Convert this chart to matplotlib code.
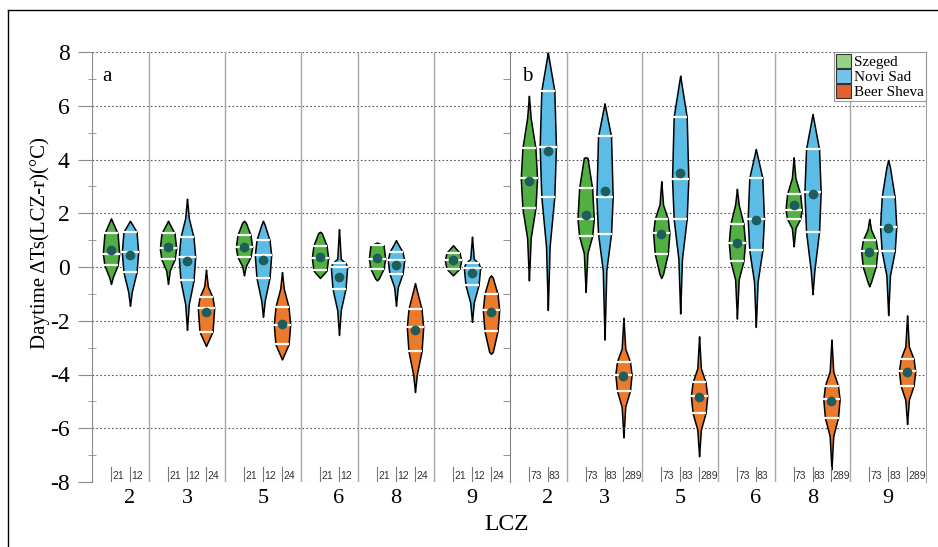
import numpy as np
import matplotlib.pyplot as plt
from matplotlib.lines import Line2D
from matplotlib.patches import Patch

plt.rcParams['font.family'] = ['Liberation Serif', 'DejaVu Serif']
plt.rcParams['axes.unicode_minus'] = False

lcz = ['2', '3', '5', '6', '8', '9']
cities = ['Szeged', 'Novi Sad', 'Beer Sheva']
n_a = [21, 12, 24]
n_b = [73, 83, 289]

# each row: max, q3, median, q1, min, mean  (None = no data for that LCZ)
szeged_a = [[1.81, 1.25, 0.50, 0.06, -0.63, 0.62],
            [1.72, 1.25, 0.69, 0.28, -0.63, 0.75],
            [1.72, 1.19, 0.73, 0.38, -0.31, 0.75],
            [1.31, 0.80, 0.34, -0.13, -0.41, 0.38],
            [0.91, 0.81, 0.31, -0.06, -0.50, 0.34],
            [0.81, 0.53, 0.25, -0.06, -0.31, 0.25]]
novisad_a = [[1.72, 1.31, 0.54, -0.19, -1.44, 0.44],
             [2.54, 1.10, 0.38, -0.50, -2.34, 0.22],
             [1.72, 1.00, 0.44, -0.40, -1.85, 0.25],
             [1.41, 0.15, 0.00, -0.80, -2.53, -0.36],
             [1.00, 0.56, 0.25, -0.25, -1.44, 0.09],
             [1.13, 0.14, -0.02, -0.67, -2.04, -0.23]]
beersheva_a = [None,
               [-0.10, -1.13, -1.54, -2.40, -2.94, -1.69],
               [-0.19, -1.48, -2.15, -2.88, -3.44, -2.13],
               None,
               [-0.60, -1.56, -2.25, -3.13, -4.65, -2.34],
               [-0.31, -1.00, -1.60, -2.38, -3.23, -1.69]]

szeged_b = [[6.37, 4.42, 3.30, 2.19, -0.50, 3.19],
            [4.08, 2.93, 1.79, 1.15, -0.93, 1.92],
            [3.19, 1.79, 1.26, 0.50, -0.41, 1.21],
            [2.91, 1.61, 0.90, 0.22, -1.92, 0.90],
            [4.08, 2.72, 2.13, 1.79, 0.77, 2.29],
            [1.79, 0.99, 0.59, 0.02, -0.72, 0.56]]
novisad_b = [[7.98, 6.56, 4.48, 2.62, -1.60, 4.33],
             [6.09, 4.86, 2.60, 1.24, -2.70, 2.82],
             [7.12, 5.59, 3.28, 1.79, -1.73, 3.49],
             [4.39, 3.32, 1.79, 0.62, -2.23, 1.76],
             [5.69, 4.39, 2.78, 1.32, -1.01, 2.72],
             [3.98, 2.60, 1.49, 0.59, -1.79, 1.46]]
beersheva_b = [None,
               [-1.89, -3.52, -4.00, -4.60, -6.34, -4.04],
               [-2.58, -4.29, -4.81, -5.43, -7.04, -4.84],
               None,
               [-2.70, -4.41, -4.93, -5.61, -7.52, -4.97],
               [-1.80, -3.42, -3.88, -4.41, -5.84, -3.89]]

fill_colors = ['#52b042', '#5bbde6', '#ec7a2a']
legend_colors = ['#96d286', '#74c3ea', '#e0622e']
dot_color = '#1f5c5c'
sep_color = '#a8a8a8'
HALF = 0.43


def profile(s):
    vmax, q3, med, q1, vmin, mean = s
    ky, kw = [vmin], [0.0]
    lo = q1 - (med - q1)
    if lo > vmin:
        ky.append(lo); kw.append(0.22)
    ky += [q1, med, q3]; kw += [0.8, 1.0, 0.8]
    hi = q3 + (q3 - med)
    if hi < vmax:
        ky.append(hi); kw.append(0.22)
    ky.append(vmax); kw.append(0.0)
    return ky, kw


def draw_violin(ax, x, s, color):
    vmax, q3, med, q1, vmin, mean = s
    ky, kw = profile(s)
    coords = np.linspace(vmin, vmax, 300)
    vals = np.interp(coords, ky, kw)
    st = dict(coords=coords, vals=vals, mean=mean, median=med, min=vmin, max=vmax)
    parts = ax.violin([st], positions=[x], widths=2 * HALF, showmeans=False,
                      showextrema=False, showmedians=False)
    body = parts['bodies'][0]
    body.set_facecolor(color)
    body.set_edgecolor('black')
    body.set_linewidth(1.1)
    body.set_alpha(1)
    body.set_zorder(2)
    for lev in (q1, med, q3):
        hw = np.interp(lev, ky, kw) * HALF + 0.03
        ax.hlines(lev, x - hw, x + hw, color='white', lw=1.6, zorder=3)
    ax.plot(x, mean, 'o', color=dot_color, ms=6, zorder=4)


def draw_panel(ax, data, counts):
    start = 0
    ticks = []
    for k in range(len(lcz)):
        present = [c for c in range(3) if data[c][k] is not None]
        for j, c in enumerate(present):
            x = start + 1 + j
            draw_violin(ax, x, data[c][k], fill_colors[c])
            ax.plot([x, x], [-8, -7.43], color='#777777', lw=0.8, zorder=2)
            ax.text(x + 0.06, -7.97, str(counts[c]), fontsize=7.5, color='#333333',
                    family='Liberation Sans', va='bottom', ha='left')
        ticks.append(start + 2)
        start += len(present) + 1
        if k < len(lcz) - 1:
            ax.axvline(start, color=sep_color, lw=1.0, zorder=1)
    ax.set_xlim(0, start)
    ax.set_ylim(-8, 8)
    ax.set_xticks(ticks, lcz)
    ax.tick_params(axis='x', length=0, labelsize=16, pad=5)
    ax.set_yticks(np.arange(-8, 9, 2))
    ax.set_yticks(np.arange(-7, 8, 2), minor=True)
    ax.yaxis.grid(True, which='major', ls=(0, (1.5, 2)), color='#555555', lw=0.8)
    ax.set_axisbelow(True)
    for sp in ('top', 'bottom'):
        ax.spines[sp].set_visible(False)


fig = plt.figure(figsize=(9.38, 5.47), dpi=100)
ax_a = fig.add_axes([92 / 938, 1 - 482 / 547, 418 / 938, 430 / 547])
ax_b = fig.add_axes([510 / 938, 1 - 482 / 547, 416 / 938, 430 / 547])

draw_panel(ax_a, [szeged_a, novisad_a, beersheva_a], n_a)
draw_panel(ax_b, [szeged_b, novisad_b, beersheva_b], n_b)

ax_a.spines['right'].set_visible(False)
ax_a.spines['left'].set_color('#8c8c8c')
ax_a.tick_params(axis='y', which='major', length=10, color='#8c8c8c', labelsize=17, pad=6)
ax_a.tick_params(axis='y', which='minor', direction='inout', length=6, color='#8c8c8c')

ax_b.spines['left'].set_color('#808080')
ax_b.spines['right'].set_color('#a0a0a0')
ax_b.tick_params(axis='y', which='major', length=0, labelleft=False)
ax_b.tick_params(axis='y', which='minor', length=5, color='#808080')

ax_a.text(0.025, 0.965, 'a', transform=ax_a.transAxes, fontsize=15, va='top')
ax_b.text(0.03, 0.965, 'b', transform=ax_b.transAxes, fontsize=15, va='top')

handles = [Patch(facecolor=c, edgecolor='#333333', lw=0.8) for c in legend_colors]
leg = ax_b.legend(handles, cities, loc='upper right', borderaxespad=0, fancybox=False,
                  edgecolor='#9a9a9a', framealpha=1, fontsize=11, handlelength=1.0,
                  handleheight=1.0, handletextpad=0.2, labelspacing=0.0, borderpad=0.12)
leg.get_frame().set_linewidth(0.8)

fig.text(40 / 938, 1 - 243 / 547, 'Daytime ΔTs(LCZ-r)(°C)', rotation=90,
         ha='center', va='center', fontsize=15)
fig.text(507 / 938, 1 - 525 / 547, 'LCZ', ha='center', va='center', fontsize=17)

# outer frame of the figure panel
fig.add_artist(Line2D([8 / 938, 8 / 938], [0, 1 - 10 / 547], color='black', lw=1))
fig.add_artist(Line2D([8 / 938, 1], [1 - 10 / 547, 1 - 10 / 547], color='black', lw=1))

fig.savefig('out.png', dpi=100)
